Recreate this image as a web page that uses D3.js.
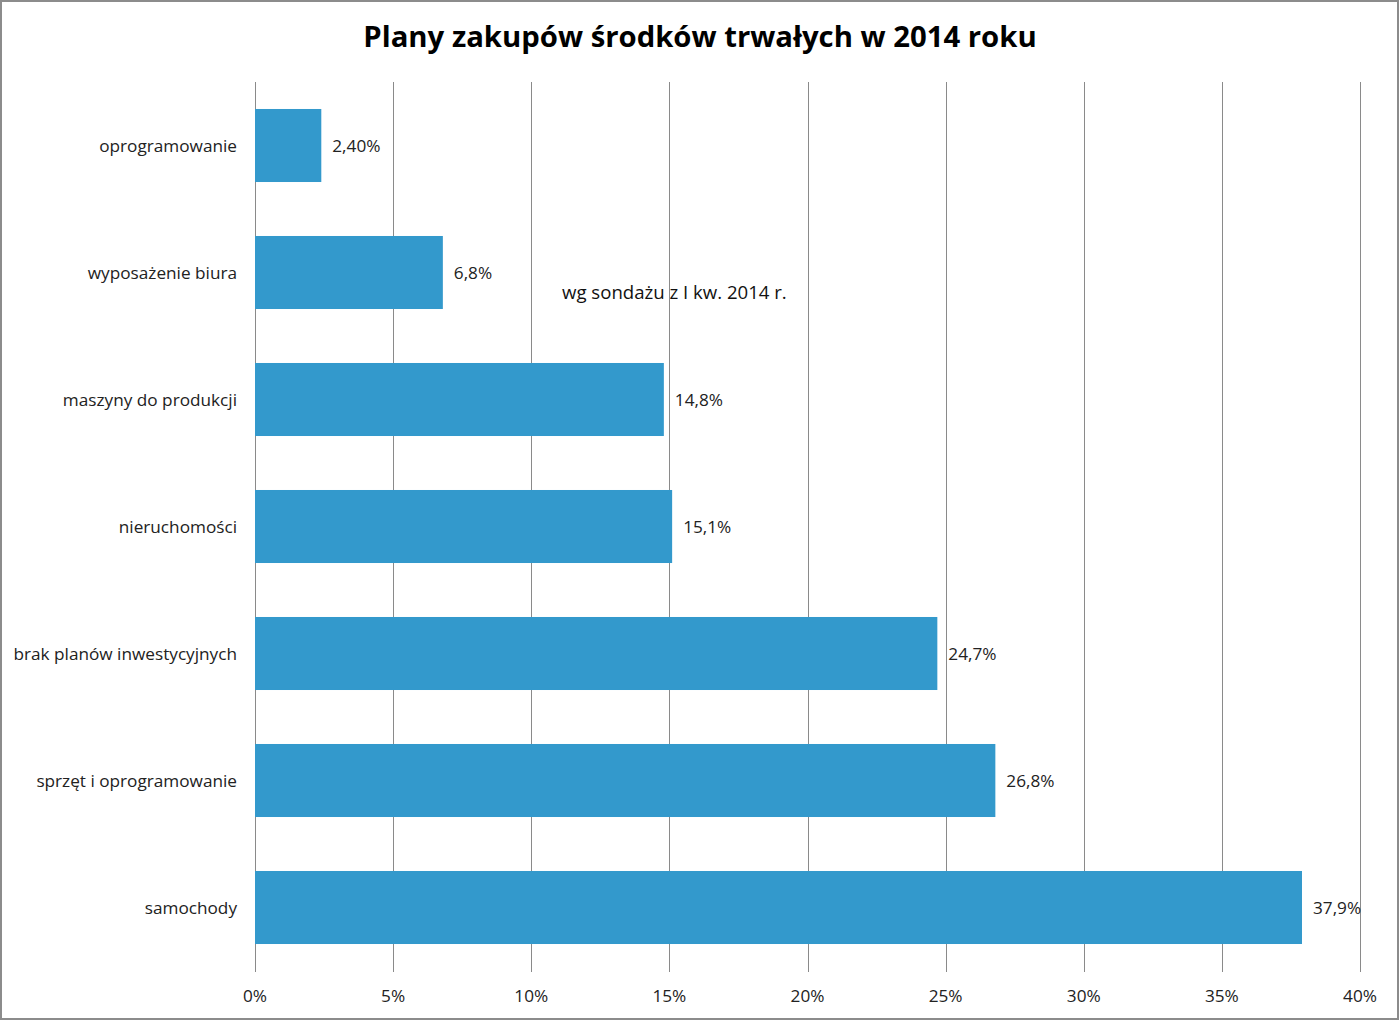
<!DOCTYPE html>
<html>
<head>
<meta charset="utf-8">
<script src="https://cdn.jsdelivr.net/npm/d3@7"></script>
<style>
	body { margin: 0; background: #fff; }
	svg { display: block; font-family: "Open Sans", sans-serif; }
</style>
</head>
<body>
<svg id="chart"></svg>
<script>
const categories = [
	'oprogramowanie',
	'wyposażenie biura',
	'maszyny do produkcji',
	'nieruchomości',
	'brak planów inwestycyjnych',
	'sprzęt i oprogramowanie',
	'samochody',
];
const values = [2.4, 6.8, 14.8, 15.1, 24.7, 26.8, 37.9];
const valueLabels = ['2,40%', '6,8%', '14,8%', '15,1%', '24,7%', '26,8%', '37,9%'];
const ticks = [0, 5, 10, 15, 20, 25, 30, 35, 40];

const width = 1400;
const height = 1021;
const margin = { top: 82, right: 40, bottom: 50, left: 255 };

const svg = d3.select('#chart')
	.attr('width', width)
	.attr('height', height);

// outer frame
svg.append('rect')
	.attr('x', 1)
	.attr('y', 1)
	.attr('width', width - 3)
	.attr('height', height - 3)
	.attr('fill', '#fff')
	.attr('stroke', '#8c8c8c')
	.attr('stroke-width', 2);

const x = d3.scaleLinear()
	.domain([0, 40])
	.range([margin.left, 1360]);

const y = d3.scaleBand()
	.domain(categories)
	.range([margin.top, 971])
	.paddingInner(0.425)
	.paddingOuter(0.2125);

svg.append('text')
	.attr('x', 700)
	.attr('y', 47)
	.attr('text-anchor', 'middle')
	.attr('font-size', 29.3)
	.attr('font-weight', 'bold')
	.attr('fill', '#000')
	.text('Plany zakupów środków trwałych w 2014 roku');

// note sits under the gridlines
svg.append('text')
	.attr('x', 562)
	.attr('y', 299)
	.attr('font-size', 18.6)
	.attr('fill', '#111')
	.text('wg sondażu z I kw. 2014 r.');

svg.append('g')
	.selectAll('line')
	.data(ticks)
	.enter()
	.append('line')
	.attr('x1', d => Math.round(x(d)) + 0.5)
	.attr('x2', d => Math.round(x(d)) + 0.5)
	.attr('y1', margin.top)
	.attr('y2', 972)
	.attr('stroke', '#8a8a8a')
	.attr('stroke-width', 1);

svg.append('g')
	.selectAll('rect')
	.data(values)
	.enter()
	.append('rect')
	.attr('x', x(0))
	.attr('y', (d, i) => y(categories[i]))
	.attr('width', d => x(d) - x(0))
	.attr('height', y.bandwidth())
	.attr('fill', '#3399cc');

svg.append('g')
	.selectAll('text')
	.data(values)
	.enter()
	.append('text')
	.attr('x', d => x(d) + 11)
	.attr('y', (d, i) => y(categories[i]) + y.bandwidth() / 2)
	.attr('dy', '0.35em')
	.attr('font-size', 17.2)
	.attr('fill', '#222')
	.text((d, i) => valueLabels[i]);

svg.append('g')
	.selectAll('text')
	.data(categories)
	.enter()
	.append('text')
	.attr('x', 237)
	.attr('y', d => y(d) + y.bandwidth() / 2)
	.attr('dy', '0.35em')
	.attr('text-anchor', 'end')
	.attr('font-size', 17.2)
	.attr('fill', '#222')
	.text(d => d);

svg.append('g')
	.selectAll('text')
	.data(ticks)
	.enter()
	.append('text')
	.attr('x', d => x(d))
	.attr('y', 996)
	.attr('dy', '0.35em')
	.attr('text-anchor', 'middle')
	.attr('font-size', 17.2)
	.attr('fill', '#222')
	.text(d => d + '%');
</script>
</body>
</html>
